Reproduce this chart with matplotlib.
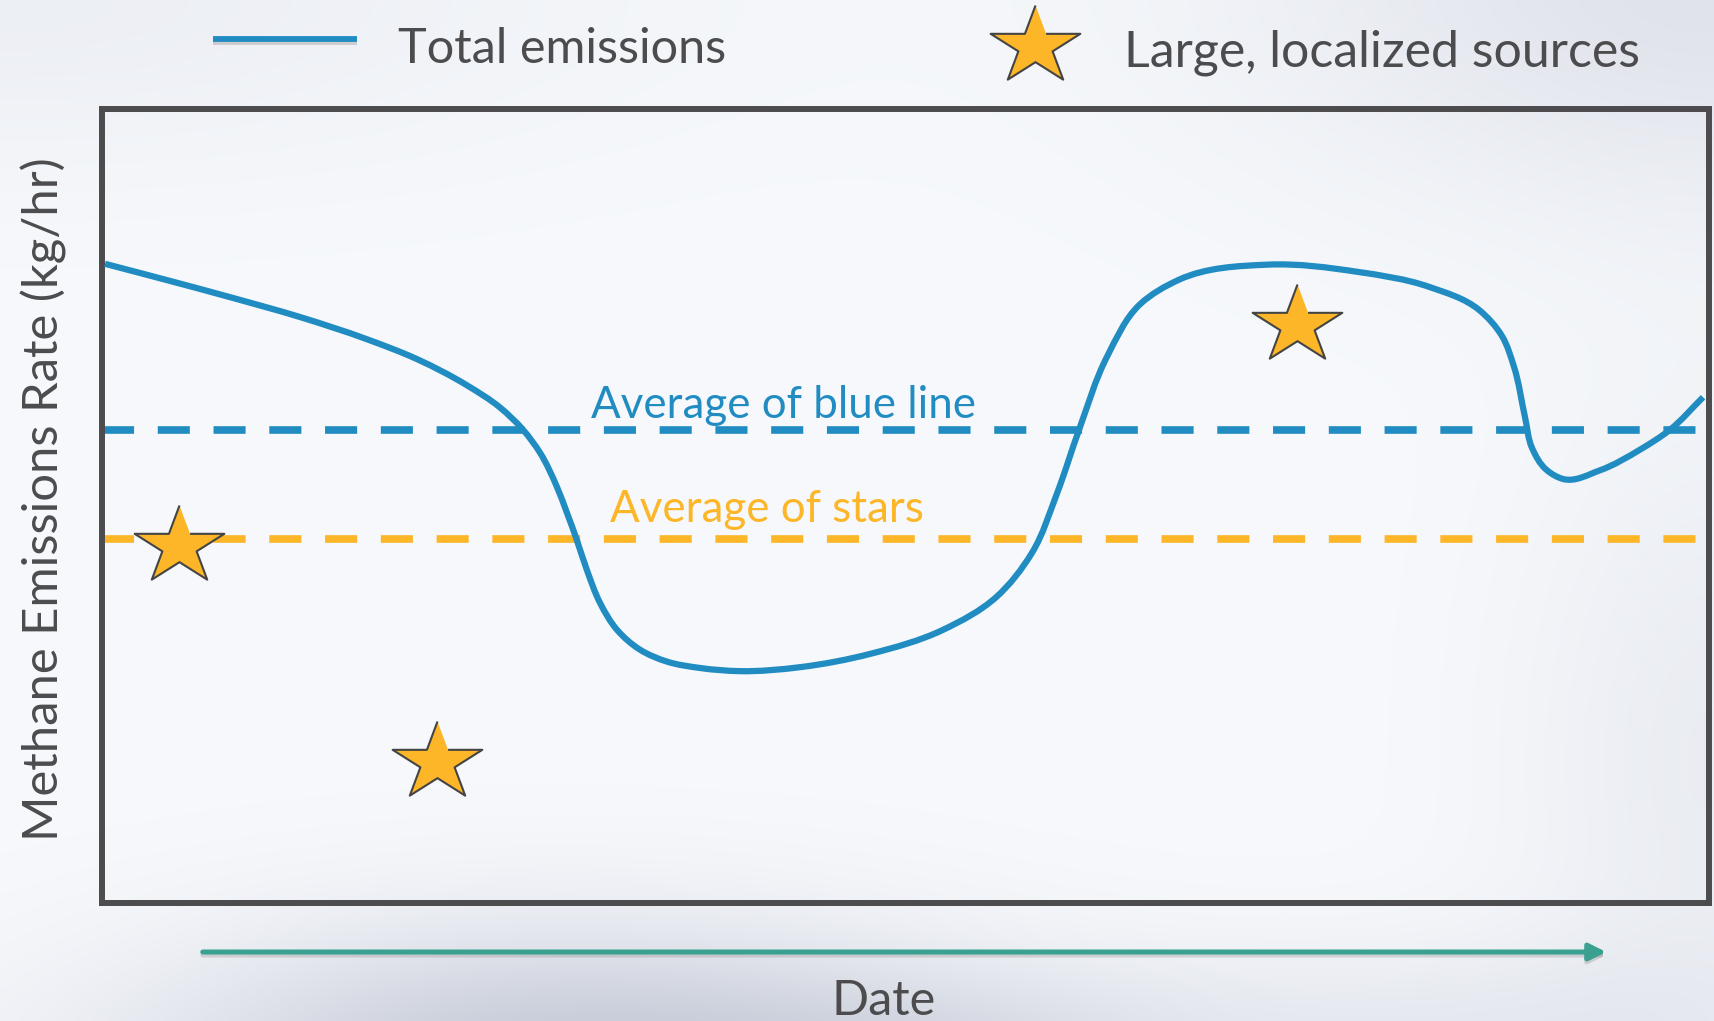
import numpy as np
import matplotlib.pyplot as plt
from matplotlib.path import Path
from matplotlib.patches import PathPatch, FancyArrowPatch
from matplotlib.lines import Line2D

# total emissions over time (date on a 0-100 scale, rate on a 0-100 scale)
dates = [0.19, 4.04, 8.15, 12.32, 16.49, 19.60, 22.71, 24.77, 26.20, 27.26,
         28.31, 28.94, 29.50, 30.18, 30.99, 32.05, 33.48, 35.16, 37.21, 39.70,
         43.43, 47.85, 52.33, 55.63, 57.87, 59.43, 60.80, 62.54, 64.59, 67.02,
         72.56, 78.10, 82.58, 85.69, 87.12, 87.87, 88.55, 88.99, 89.86, 90.92,
         93.22, 95.71, 97.57, 99.63]
emissions = [80.5, 78.45, 76.2, 73.8, 71.0, 68.5, 65.2, 62.4, 59.6, 56.7,
             52.4, 49.1, 46.0, 41.9, 37.8, 34.4, 31.9, 30.4, 29.6, 29.2,
             29.7, 31.4, 34.4, 38.5, 44.1, 51.6, 59.6, 68.8, 75.4, 78.5,
             80.4, 79.5, 77.6, 74.7, 71.4, 67.5, 61.2, 57.3, 54.6, 53.4,
             54.5, 57.1, 59.6, 63.7]

# large, localized sources
star_dates = [4.79, 20.84, 74.37]
star_rates = [44.9, 17.7, 72.8]

avg_blue = 59.6
avg_stars = 45.8

BLUE = '#218CC1'
ORANGE = '#FCB628'
TEAL = '#3AA08F'
GREY = '#4C4C4E'
FONT = 'Lato'

W, H = 1714, 1021


def fx(px):
    return px / W


def fy(py):
    return 1 - py / H


def smooth_path(xs, ys, sx=16.07, sy=7.94):
    # cubic bezier through the points, tangents weighted by chord length
    p = np.column_stack([np.asarray(xs) * sx, np.asarray(ys) * sy])
    seg = np.diff(p, axis=0)
    dl = np.linalg.norm(seg, axis=1)
    u = seg / dl[:, None]
    tang = np.zeros_like(p)
    tang[0] = u[0]
    tang[-1] = u[-1]
    d0, d1 = dl[:-1], dl[1:]
    tang[1:-1] = (u[:-1] * d1[:, None] + u[1:] * d0[:, None]) / (d0 + d1)[:, None]
    tang /= np.linalg.norm(tang, axis=1)[:, None]
    verts = [p[0]]
    codes = [Path.MOVETO]
    for i in range(len(p) - 1):
        d = dl[i] / 3
        verts += [p[i] + tang[i] * d, p[i + 1] - tang[i + 1] * d, p[i + 1]]
        codes += [Path.CURVE4] * 3
    verts = np.array(verts) / [sx, sy]
    return Path(verts, codes)


# slightly wide five-pointed star
ang = np.deg2rad(90 + 36 * np.arange(10))
rad = np.where(np.arange(10) % 2 == 0, 1.0, 0.382)
star = np.column_stack([1.15 * rad * np.cos(ang), rad * np.sin(ang)])
star_ms = 2 * np.abs(star).max() * 41 * 0.72

fig = plt.figure(figsize=(W / 100, H / 100), dpi=100)

# soft backdrop
yy, xx = np.mgrid[0:H:4, 0:W:4].astype(float)
base = np.array([0.968, 0.976, 0.988])
blobs = [(560, 1070, 300, 100, 0.19), (1714, -20, 320, 160, 0.09),
         (1714, 760, 140, 260, 0.05), (0, 0, 450, 120, 0.04),
         (1450, 1040, 260, 70, 0.06), (950, 1060, 200, 60, 0.06)]
dark = np.zeros_like(xx)
for cx, cy, sx, sy, a in blobs:
    dark += a * np.exp(-((xx - cx) ** 2 / (2 * sx ** 2) + (yy - cy) ** 2 / (2 * sy ** 2)))
img = base[None, None, :] - dark[:, :, None] * np.array([1.0, 0.95, 0.75])
bg = fig.add_axes([0, 0, 1, 1], zorder=-10)
bg.imshow(np.clip(img, 0, 1), extent=[0, 1, 0, 1], aspect='auto', interpolation='bicubic')
bg.axis('off')

ax = fig.add_axes([fx(102), fy(903), fx(1709) - fx(102), fy(109) - fy(903)])
ax.set_facecolor('none')
ax.set_xlim(0, 100)
ax.set_ylim(0, 100)
ax.set_xticks([])
ax.set_yticks([])
for s in ax.spines.values():
    s.set_color(GREY)
    s.set_linewidth(4.3)

ax.axhline(avg_blue, color=BLUE, lw=5.5, ls=(0, (4.2, 3.1)), zorder=2)
ax.axhline(avg_stars, color=ORANGE, lw=5.5, ls=(0, (4.2, 3.1)), zorder=2)
ax.add_patch(PathPatch(smooth_path(dates, emissions), fill=False, ec=BLUE,
                       lw=4.5, capstyle='butt', zorder=3))
ax.plot(star_dates, star_rates, ls='none', marker=star, ms=star_ms,
        mfc=ORANGE, mec='#444444', mew=1.5, zorder=4)

ax.text(42.4, 61.1, 'Average of blue line', color=BLUE, fontsize=31.6,
        family=FONT, ha='center', va='baseline')
ax.text(41.4, 48.0, 'Average of stars', color=ORANGE, fontsize=31.6,
        family=FONT, ha='center', va='baseline')

# legend across the top
fig.add_artist(Line2D([fx(213), fx(357)], [fy(42), fy(42)], color='#888888',
                      alpha=0.35, lw=4.2, solid_capstyle='butt'))
fig.add_artist(Line2D([fx(213), fx(357)], [fy(39), fy(39)], color=BLUE,
                      lw=4.2, solid_capstyle='butt'))
fig.text(fx(398), fy(63), 'Total emissions', color=GREY, fontsize=35,
         family=FONT, ha='left', va='baseline')
fig.add_artist(Line2D([fx(1035)], [fy(46)], ls='none', marker=star, ms=star_ms,
                      mfc=ORANGE, mec='#444444', mew=1.5))
fig.text(fx(1124), fy(66), 'Large, localized sources', color=GREY, fontsize=36,
         family=FONT, ha='left', va='baseline')

fig.text(fx(44), fy(499), 'Methane Emissions Rate (kg/hr)', color=GREY,
         fontsize=35.3, family=FONT, rotation=90, ha='center', va='center')

# time arrow under the frame
arrow_style = '-|>,head_length=0.5,head_width=0.25'
fig.add_artist(FancyArrowPatch((fx(200), fy(955)), (fx(1609), fy(955)),
                               transform=fig.transFigure, arrowstyle=arrow_style,
                               mutation_scale=20, color='#888888', alpha=0.3, lw=3.6))
fig.add_artist(FancyArrowPatch((fx(200), fy(952)), (fx(1609), fy(952)),
                               transform=fig.transFigure, arrowstyle=arrow_style,
                               mutation_scale=20, color=TEAL, lw=3.6))
fig.text(fx(884), fy(1015), 'Date', color=GREY, fontsize=35, family=FONT,
         ha='center', va='baseline')

fig.savefig('out.png', dpi=100)
